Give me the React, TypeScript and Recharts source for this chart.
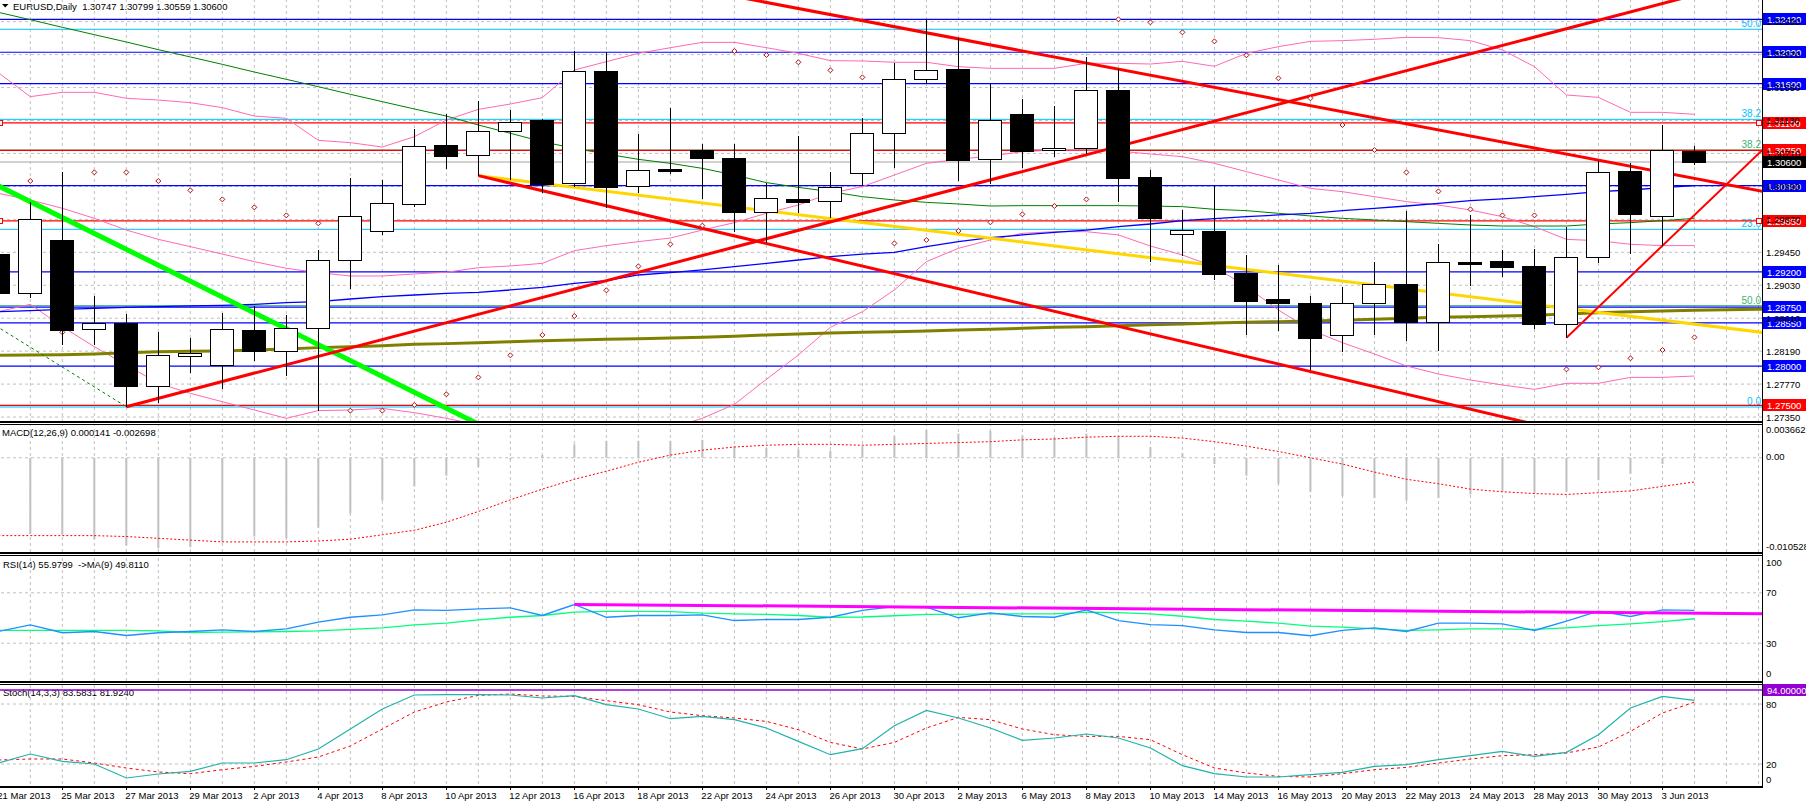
import React from 'react';
import { ComposedChart, Bar, Line, XAxis, YAxis, ReferenceLine } from 'recharts';

// time scale labels, one every second bar starting at bar 0
const dateLabels = [
  '21 Mar 2013', '25 Mar 2013', '27 Mar 2013', '29 Mar 2013', '2 Apr 2013', '4 Apr 2013', '8 Apr 2013',
  '10 Apr 2013', '12 Apr 2013', '16 Apr 2013', '18 Apr 2013', '22 Apr 2013', '24 Apr 2013', '26 Apr 2013',
  '30 Apr 2013', '2 May 2013', '6 May 2013', '8 May 2013', '10 May 2013', '14 May 2013', '16 May 2013',
  '20 May 2013', '22 May 2013', '24 May 2013', '28 May 2013', '30 May 2013', '3 Jun 2013',
];

// EURUSD daily candles
const opens = [
  1.29424, 1.28927, 1.29607, 1.28468, 1.28544, 1.2775, 1.28124, 1.28018, 1.28459, 1.28188,
  1.28481, 1.29348, 1.29717, 1.30061, 1.30818, 1.30686, 1.30992, 1.31136, 1.30338, 1.31761,
  1.30291, 1.30508, 1.3075, 1.30652, 1.2996, 1.30125, 1.301, 1.30465, 1.30966, 1.31655,
  1.31786, 1.30635, 1.31213, 1.3075, 1.30775, 1.31519, 1.3041, 1.29679, 1.29722, 1.2919,
  1.28855, 1.28804, 1.28392, 1.28799, 1.29042, 1.28557, 1.29326, 1.29335, 1.29275, 1.28532,
  1.29386, 1.30486, 1.29908, 1.30747,
];
const highs = [
  1.29522, 1.30095, 1.30478, 1.28893, 1.28663, 1.28434, 1.28357, 1.2868, 1.28765, 1.28646,
  1.29479, 1.30393, 1.30372, 1.31022, 1.31209, 1.31379, 1.31264, 1.31149, 1.32016, 1.31999,
  1.30958, 1.31289, 1.3083, 1.3083, 1.30329, 1.30932, 1.30478, 1.31166, 1.31867, 1.3242,
  1.32177, 1.31595, 1.31404, 1.31315, 1.31935, 1.31786, 1.30499, 1.29989, 1.30299, 1.29416,
  1.29288, 1.28893, 1.29012, 1.29326, 1.29976, 1.29551, 1.29925, 1.29479, 1.29488, 1.29777,
  1.30614, 1.30584, 1.31073, 1.30799,
];
const lows = [
  1.28842, 1.28872, 1.28268, 1.28268, 1.27482, 1.27533, 1.27916, 1.27703, 1.28069, 1.27873,
  1.27431, 1.28986, 1.29675, 1.30032, 1.30512, 1.30422, 1.30372, 1.30202, 1.30278, 1.3001,
  1.30202, 1.30444, 1.30134, 1.29713, 1.29564, 1.29947, 1.29883, 1.30299, 1.30529, 1.31595,
  1.30359, 1.30325, 1.30525, 1.30669, 1.30703, 1.30091, 1.29326, 1.29403, 1.29097, 1.284,
  1.28451, 1.2795, 1.28183, 1.284, 1.28323, 1.28196, 1.2902, 1.29139, 1.28472, 1.28362,
  1.29309, 1.29428, 1.29534, 1.30559,
];
const closes = [
  1.28927, 1.2987, 1.28459, 1.28544, 1.2775, 1.28137, 1.28162, 1.28468, 1.28188, 1.28481,
  1.29348, 1.29908, 1.30074, 1.30801, 1.30682, 1.30992, 1.31107, 1.30325, 1.31761, 1.30287,
  1.30495, 1.30491, 1.30656, 1.29968, 1.30138, 1.30095, 1.30278, 1.30966, 1.31655, 1.31769,
  1.30631, 1.31132, 1.30746, 1.30775, 1.31515, 1.30401, 1.29891, 1.2973, 1.29178, 1.28833,
  1.28799, 1.28362, 1.28799, 1.29042, 1.28566, 1.29322, 1.29305, 1.29267, 1.28532, 1.29386,
  1.30469, 1.29942, 1.3075, 1.306,
];

// Bollinger bands
const bbUpper = [
  1.3174, 1.31434, 1.31489, 1.31489, 1.31413, 1.31391, 1.31357, 1.31294, 1.31187, 1.31158,
  1.30877, 1.30848, 1.30792, 1.30924, 1.31136, 1.31272, 1.3134, 1.31421, 1.31774, 1.3188,
  1.31986, 1.32058, 1.32126, 1.32126, 1.32058, 1.31986, 1.31893, 1.31889, 1.31872, 1.31872,
  1.31816, 1.31795, 1.31795, 1.31795, 1.31859, 1.31859, 1.3185, 1.31884, 1.31821, 1.31986,
  1.32071, 1.32139, 1.32148, 1.32165, 1.3219, 1.32186, 1.32148, 1.32029, 1.31816, 1.31455,
  1.31425, 1.31234, 1.31234, 1.31209,
];
const bbMiddle = [
  1.30202, 1.30117, 1.30011, 1.29883, 1.29734, 1.29615, 1.29522, 1.29428, 1.29331, 1.29246,
  1.29191, 1.29148, 1.29148, 1.29174, 1.29195, 1.29254, 1.29276, 1.29309, 1.29471, 1.29535,
  1.29586, 1.29632, 1.29734, 1.29828, 1.29947, 1.30053, 1.30202, 1.30287, 1.30435, 1.30584,
  1.30635, 1.30678, 1.30733, 1.30754, 1.30754, 1.30741, 1.30703, 1.30669, 1.30584, 1.30478,
  1.30372, 1.30265, 1.30223, 1.30159, 1.30096, 1.30053, 1.29989, 1.29904, 1.29777, 1.29615,
  1.29598, 1.29552, 1.29535, 1.29535,
];
const bbLower = [
  1.28693, 1.28787, 1.28502, 1.28247, 1.28014, 1.2778, 1.27652, 1.27546, 1.2744, 1.27334,
  1.27432, 1.2744, 1.27461, 1.27406, 1.27334, 1.27249, 1.27211, 1.27198, 1.27177, 1.27189,
  1.27185, 1.27206, 1.27334, 1.27512, 1.27831, 1.28141, 1.28494, 1.28693, 1.2897, 1.29331,
  1.29501, 1.29607, 1.29692, 1.29713, 1.29713, 1.29671, 1.2953, 1.29416, 1.29267, 1.29012,
  1.28715, 1.2846, 1.28298, 1.28154, 1.28001, 1.27899, 1.27822, 1.27759, 1.27703, 1.2778,
  1.2778, 1.27856, 1.27856, 1.27873,
];

// moving averages
const maGreen = [
  1.32509, 1.32415, 1.32318, 1.32224, 1.32131, 1.32033, 1.3194, 1.31846, 1.31748, 1.31655,
  1.31561, 1.31464, 1.3137, 1.31277, 1.31187, 1.31073, 1.30967, 1.3086, 1.30775, 1.30703,
  1.30635, 1.30584, 1.3052, 1.30435, 1.30338, 1.30278, 1.30223, 1.30159, 1.30117, 1.30087,
  1.30066, 1.3004, 1.30045, 1.30045, 1.30045, 1.30045, 1.3004, 1.30032, 1.29998, 1.29981,
  1.29947, 1.29913, 1.29883, 1.29862, 1.29841, 1.29819, 1.29798, 1.29785, 1.29785, 1.29785,
  1.29811, 1.29828, 1.29853, 1.29883,
];
const maBlue = [
  1.28693, 1.28706, 1.28723, 1.28736, 1.28749, 1.28757, 1.28766, 1.28774, 1.28787, 1.28808,
  1.28821, 1.28855, 1.28885, 1.28906, 1.28927, 1.2894, 1.2897, 1.29004, 1.29055, 1.29089,
  1.29161, 1.29191, 1.29225, 1.29267, 1.29309, 1.29352, 1.29394, 1.29428, 1.2945, 1.29522,
  1.29586, 1.29637, 1.29671, 1.29705, 1.29734, 1.29777, 1.29811, 1.29853, 1.29879, 1.29904,
  1.29926, 1.29947, 1.29981, 1.30011, 1.3004, 1.30074, 1.30108, 1.3013, 1.30159, 1.30189,
  1.30223, 1.30244, 1.30274, 1.30299,
];
// shifted forward, so it runs three bars past the last candle
const maOlive = [
  1.28137, 1.28141, 1.28145, 1.28154, 1.28171, 1.28184, 1.28188, 1.28192, 1.28205, 1.28218,
  1.28235, 1.28247, 1.2826, 1.28277, 1.28286, 1.28298, 1.28311, 1.28324, 1.28332, 1.28341,
  1.28349, 1.28358, 1.28366, 1.28379, 1.28396, 1.28409, 1.28421, 1.2843, 1.28438, 1.28447,
  1.2846, 1.28468, 1.28481, 1.28494, 1.28502, 1.28515, 1.28528, 1.28536, 1.28549, 1.28557,
  1.28566, 1.28574, 1.28583, 1.28596, 1.28608, 1.28621, 1.2863, 1.28638, 1.28647, 1.28664,
  1.28681, 1.28693, 1.28702, 1.2871, 1.28719, 1.28723, 1.28727,
];

// parabolic SAR dots
const sar = [
  null, 1.30359, 1.2843, 1.30469, 1.30469, 1.30359, 1.3024, 1.30125, 1.30023, 1.29921,
  1.29819, 1.27432, 1.27432, 1.27504, 1.2764, 1.27856, 1.28137, 1.28396, 1.28638, 1.28965,
  1.29271, 1.29552, 1.2979, 1.32016, 1.31965, 1.31872, 1.3177, 1.3168, 1.29564, 1.29607,
  1.29722, 1.29832, 1.29934, 1.3004, 1.30125, 1.3242, 1.32381, 1.32254, 1.32139, 1.31961,
  1.31668, 1.31413, 1.31073, 1.30754, 1.30469, 1.30227, 1.29998, 1.29921, 1.29921, 1.27958,
  1.27984, 1.28099, 1.28205, 1.28366,
];

// MACD(12,26,9)
const macdMain = [
  -0.008, -0.0085, -0.0086, -0.0091, -0.0098, -0.0101, -0.01, -0.0094, -0.0088, -0.009,
  -0.0078, -0.0062, -0.0048, -0.0032, -0.002, -0.001, -0.0002, 0.0003, 0.0015, 0.0019,
  0.0019, 0.0019, 0.002, 0.0013, 0.0011, 0.0009, 0.0008, 0.0013, 0.0024, 0.0031,
  0.0027, 0.003, 0.0025, 0.0023, 0.0027, 0.0024, 0.0012, 0.0005, -0.0007, -0.002,
  -0.0029, -0.0038, -0.0043, -0.0045, -0.0048, -0.0045, -0.0041, -0.0038, -0.004, -0.0038,
  -0.0025, -0.0018, -0.0007, 0.000141,
];
const macdSignal = [
  -0.0087, -0.0087, -0.0087, -0.0087, -0.0088, -0.009, -0.0092, -0.0094, -0.0094, -0.0094,
  -0.0093, -0.0091, -0.0086, -0.0081, -0.0072, -0.006, -0.0047, -0.0035, -0.0024, -0.0015,
  -0.0005, 0.0003, 0.00085, 0.0012, 0.0014, 0.0015, 0.0015, 0.0014, 0.0015, 0.0016,
  0.0017, 0.0018, 0.002, 0.0021, 0.0023, 0.0024, 0.0024, 0.0022, 0.0018, 0.0013,
  0.0007, 0, -0.0007, -0.0016, -0.0024, -0.0029, -0.0035, -0.0038, -0.004, -0.0041,
  -0.0039, -0.0037, -0.0032, -0.0027,
];

// RSI(14) and its MA(9)
const rsi = [
  39.3, 44.6, 38.3, 39.3, 36.1, 38.3, 39.3, 40.6, 39.3, 41.4,
  46.7, 50.6, 52.5, 56.5, 56, 57.3, 58.1, 52, 60.7, 50.6,
  52, 52, 52.5, 48, 48.8, 48.8, 50.6, 56, 59.1, 58.6,
  50.2, 54.1, 51.2, 50.6, 56.5, 48, 44.8, 44, 40.6, 38.5,
  38.5, 35.9, 40.1, 42.2, 39.3, 45.9, 45.9, 45.4, 40.1, 47.5,
  55.4, 51.2, 56.5, 56,
];
const rsiMa = [
  40.1, 40.1, 40.1, 40.1, 40.1, 39.8, 38.5, 38.8, 39, 39.3,
  39.8, 41, 42.2, 44.5, 46, 48.5, 50.6, 52, 54.6, 55.2,
  55.2, 55, 53.8, 53.3, 52.8, 52, 50.6, 50.8, 51.8, 52.8,
  52.8, 53.3, 53.3, 53.3, 54.6, 54.2, 53.3, 51.4, 48.8, 47.5,
  45.9, 43.5, 42.7, 41.4, 40.1, 40.6, 41.4, 41.4, 40.9, 42.2,
  44, 45.4, 47.2, 49.4,
];

// Stochastic(14,3,3)
const stochK = [
  21, 30, 22.6, 20, 6, 10, 12.6, 21, 21, 24.3,
  35, 55, 75, 89, 89.3, 89.3, 89, 86, 88.3, 79.3,
  75, 65.3, 67.6, 64.3, 56, 42.6, 29.3, 35.3, 58.3, 73.6,
  66, 56, 43.6, 46, 50, 46, 36, 18.3, 10.3, 7,
  7, 9.3, 11.6, 17.6, 19.3, 24.3, 28.3, 32.6, 27.6, 31.6,
  49.3, 76, 87.6, 83.6,
];
const stochD = [
  24, 25, 25, 21, 16, 12, 10.3, 14.3, 17.6, 22,
  27, 38, 55, 72, 82, 88.6, 90, 88, 87.6, 83.3,
  79.3, 72, 68.3, 66, 62.6, 54.3, 41.6, 35, 41.6, 56,
  66.6, 64.3, 55, 49.3, 47.6, 47.6, 44.3, 29.3, 16, 11,
  7.6, 7, 10.3, 14.3, 16.6, 21, 25, 28.3, 29.3, 31,
  37, 52.6, 71, 81.9,
];

// horizontal objects on the price chart
const blueLevels = [1.3242, 1.32, 1.316, 1.303, 1.292, 1.2875, 1.2855, 1.28];
const redLevels = [1.311, 1.3075, 1.2985, 1.275];
const markedLevels = [1.311, 1.2985];
const bidPrice = 1.306;
const fiboBlue: [number, string][] = [[1.32293, '50.0'], [1.31145, '38.2'], [1.29743, '23.6'], [1.27478, '0.0']];
const fiboGreen: [number, string][] = [[1.30754, '38.2'], [1.2877, '50.0']];
const priceTicks = [1.2735, 1.2777, 1.2819, 1.2861, 1.2903, 1.2945, 1.2987, 1.3029, 1.3071, 1.3113, 1.3155, 1.3197, 1.3239];

// trend lines: [bar, value] anchor pairs
const riseRed: [number, number][] = [[4, 1.27482], [60, 1.33478]];
const fallRedTop: [number, number][] = [[20, 1.32944], [60, 1.29851]];
const fallRedLow: [number, number][] = [[15, 1.30427], [60, 1.26106]];
const goldLine: [number, number][] = [[15, 1.30427], [60, 1.28186]];
const steepRed: [number, number][] = [[49, 1.28362], [60, 1.32662]];
const limeLine: [number, number][] = [[-2, 1.30703], [20, 1.26248]];
const dashGreen: [number, number][] = [[-2, 1.28999], [4, 1.27482]];
const rsiTrend: [number, number][] = [[18, 60.8], [60, 52.4]];
const stochLevel = 94;

const macdTicks: [number, string][] = [[0.003662, '0.003662'], [0, '0.00'], [-0.010528, '-0.010528']];
const rsiTicks = [100, 70, 30, 0];
const stochTicks = [80, 20, 0];

const rows = maOlive.map((olive, i) => ({
  i,
  open: opens[i] ?? null,
  high: highs[i] ?? null,
  low: lows[i] ?? null,
  close: closes[i] ?? null,
  bbU: bbUpper[i] ?? null,
  bbM: bbMiddle[i] ?? null,
  bbL: bbLower[i] ?? null,
  maG: maGreen[i] ?? null,
  maB: maBlue[i] ?? null,
  maO: olive,
  sar: sar[i] ?? null,
  macd: macdMain[i] ?? null,
  sig: macdSignal[i] ?? null,
  rsi: rsi[i] ?? null,
  rsiMa: rsiMa[i] ?? null,
  k: stochK[i] ?? null,
  d: stochD[i] ?? null,
}));

const W = 1806;
const AXIS_W = 44;
const X_DOMAIN: [number, number] = [0.053, 55.11];
const PRICE_DOMAIN: [number, number] = [1.27287, 1.32666];
const MACD_DOMAIN: [number, number] = [-0.010528, 0.003662];
const FONT = '"Liberation Sans", Arial, sans-serif';
const FS = 9.5;
const GRID = '#c0c0c0';
const gridBars = Array.from({ length: 56 }, (_, i) => i);
const dateTicks = dateLabels.map((_, k) => k * 2);
const noMargin = { top: 0, right: 0, bottom: 0, left: 0 };
const seg = (pts: [number, number][]) => pts.map(([x, y]) => ({ x, y }));

const Candle = (props: any) => {
  const { x, y, width, height, payload } = props;
  if (!payload || payload.open == null || height == null || isNaN(height)) return null;
  const top0 = Math.min(y, y + height);
  const h = Math.abs(height);
  const { open, close, high, low } = payload;
  const toY = (p: number) => top0 + ((high - p) / (high - low)) * h;
  const cx = Math.floor(x + width / 2) + 0.5;
  const bt = Math.round(toY(Math.max(open, close))) + 0.5;
  const bb = Math.round(toY(Math.min(open, close))) + 0.5;
  return (
    <g>
      <line x1={cx} x2={cx} y1={Math.round(top0)} y2={Math.round(top0 + h)} stroke="#000" strokeWidth={1} />
      <rect x={cx - 12} y={bt} width={23} height={Math.max(bb - bt, 1)} fill={close > open ? '#fff' : '#000'} stroke="#000" strokeWidth={1} />
    </g>
  );
};

const SarDot = (props: any) => {
  const { cx, cy, payload, index } = props;
  if (!payload || payload.sar == null || cy == null || isNaN(cy)) return <g key={`s${index}`} />;
  return (
    <path key={`s${index}`} d={`M${cx} ${cy - 2.5} L${cx + 2.5} ${cy} L${cx} ${cy + 2.5} L${cx - 2.5} ${cy} Z`} fill="#fff" stroke="#b01010" strokeWidth={1} />
  );
};

const priceTag = (text: string, bg: string, marked = false) => (props: any) => {
  const vb = props.viewBox || {};
  const right = vb.x + vb.width;
  const yy = Math.round(vb.y);
  return (
    <g>
      {marked && <rect x={right - 5.5} y={yy - 2.5} width={5} height={5} fill="#fff" stroke="#ff0000" />}
      {marked && <rect x={vb.x - 2.5} y={yy - 2.5} width={5} height={5} fill="#fff" stroke="#ff0000" />}
      <rect x={right + 1} y={yy - 6} width={AXIS_W} height={12} fill={bg} />
      <text x={right + 5} y={yy + 3.5} fill="#fff" fontSize={FS} fontFamily={FONT}>{text}</text>
    </g>
  );
};

const fiboTag = (text: string, color: string) => (props: any) => {
  const vb = props.viewBox || {};
  const right = vb.x + vb.width;
  return (
    <text x={right - 1} y={vb.y - 2} textAnchor="end" fill={color} fontSize={FS + 0.5} fontFamily={FONT}>{text}</text>
  );
};

const axisText = (x: number, y: number, dy: number, text: string) => (
  <text x={x} y={y} dy={dy} fill="#000" fontSize={FS} fontFamily={FONT} textAnchor="start">{text}</text>
);

const PriceTick = (p: any) => axisText(p.x, p.y, 3.5, Number(p.payload.value).toFixed(5));
const MacdTick = (p: any) => {
  const v = Number(p.payload.value);
  const found = macdTicks.find((t) => t[0] === v);
  const dy = v > 0 ? 8 : v < 0 ? -2 : 2;
  return axisText(p.x, p.y, dy, found ? found[1] : String(v));
};
const RsiTick = (p: any) => {
  const v = Number(p.payload.value);
  const dy = v === 100 ? 11 : v === 0 ? -4 : 3.5;
  return axisText(p.x, p.y, dy, String(v));
};
const StochTick = (p: any) => {
  const v = Number(p.payload.value);
  return axisText(p.x, p.y, v === 0 ? -1 : 3.5, String(v));
};
const DateTick = (p: any) => {
  const v = Number(p.payload.value);
  const label = dateLabels[v / 2];
  const tx = Math.floor(p.x) + 0.5;
  return (
    <g>
      <line x1={tx} x2={tx} y1={p.y + 2} y2={p.y + 6} stroke="#000" />
      <text x={p.x - 1} y={p.y + 14.5} fill="#000" fontSize={FS} fontFamily={FONT} textAnchor="start">{label}</text>
    </g>
  );
};

const vGrid = (prefix: string) =>
  gridBars.map((b) => (
    <ReferenceLine key={`${prefix}${b}`} x={b} stroke={GRID} strokeDasharray="3 3" strokeWidth={1} zIndex={-100} />
  ));
const hGrid = (prefix: string, values: number[]) =>
  values.map((v) => (
    <ReferenceLine key={`${prefix}${v}`} y={v} stroke={GRID} strokeDasharray="3 3" strokeWidth={1} zIndex={-100} />
  ));

const hiddenX = <XAxis type="number" dataKey="i" domain={X_DOMAIN} allowDataOverflow hide />;

const App = () => {
  return (
    <div style={{ position: 'relative', width: W, height: 804, background: '#fff', overflow: 'hidden', fontFamily: FONT }}>
      <style>{'body{margin:0;}'}</style>

      <svg width={W} height={804} style={{ position: 'absolute', left: 0, top: 0 }}>
        <path d="M2 4 L8.5 4 L5.25 7.5 Z" fill="#000" />
        <text x={13} y={10} fontSize={FS} fontFamily={FONT} fill="#000" style={{ whiteSpace: 'pre' }}>EURUSD,Daily  1.30747 1.30799 1.30559 1.30600</text>
        <text x={2} y={435.5} fontSize={FS} fontFamily={FONT} fill="#000" style={{ whiteSpace: 'pre' }}>MACD(12,26,9) 0.000141 -0.002698</text>
        <text x={3} y={568} fontSize={FS} fontFamily={FONT} fill="#000" style={{ whiteSpace: 'pre' }}>RSI(14) 55.9799  -&gt;MA(9) 49.8110</text>
        <text x={3} y={695.5} fontSize={FS} fontFamily={FONT} fill="#000" style={{ whiteSpace: 'pre' }}>Stoch(14,3,3) 83.5831 81.9240</text>
      </svg>

      {/* price window */}
      <div style={{ position: 'absolute', left: 0, top: 0 }}>
        <ComposedChart width={W} height={422} data={rows} margin={noMargin}>
          {hiddenX}
          <YAxis orientation="right" width={AXIS_W} domain={PRICE_DOMAIN} allowDataOverflow ticks={priceTicks} interval={0}
            axisLine={false} tickLine={false} tickSize={0} tickMargin={4} tick={PriceTick} />
          {vGrid('gx')}
          {hGrid('gy', priceTicks)}
          {fiboBlue.map(([p, t]) => (
            <ReferenceLine key={`fb${t}`} y={p} stroke="#00bfff" strokeWidth={1} label={fiboTag(t, '#00bfff')} />
          ))}
          {fiboGreen.map(([p, t]) => (
            <ReferenceLine key={`fg${t}`} y={p} stroke="#3cb371" strokeWidth={1} label={fiboTag(t, '#3cb371')} />
          ))}
          <ReferenceLine y={bidPrice} stroke="#c0c0c0" strokeWidth={1.5} label={priceTag(bidPrice.toFixed(5), '#000')} />
          {blueLevels.map((p) => (
            <ReferenceLine key={`bl${p}`} y={p} stroke="#0000ff" strokeWidth={1.2} label={priceTag(p.toFixed(5), '#0000ff')} />
          ))}
          {redLevels.map((p) => (
            <ReferenceLine key={`rl${p}`} y={p} stroke="#ff0000" strokeWidth={1.2}
              label={priceTag(p.toFixed(5), '#ff0000', markedLevels.includes(p))} />
          ))}
          <Line dataKey="bbU" stroke="#ff69b4" strokeWidth={1} dot={false} activeDot={false} isAnimationActive={false} />
          <Line dataKey="bbM" stroke="#ff69b4" strokeWidth={1} dot={false} activeDot={false} isAnimationActive={false} />
          <Line dataKey="bbL" stroke="#ff69b4" strokeWidth={1} dot={false} activeDot={false} isAnimationActive={false} />
          <Line dataKey="maG" stroke="#008000" strokeWidth={1} dot={false} activeDot={false} isAnimationActive={false} />
          <Line dataKey="maB" stroke="#0000ff" strokeWidth={1.3} dot={false} activeDot={false} isAnimationActive={false} />
          <Line dataKey="maO" stroke="#808000" strokeWidth={3} dot={false} activeDot={false} isAnimationActive={false} />
          <ReferenceLine segment={seg(dashGreen)} stroke="#008000" strokeWidth={1} strokeDasharray="3 3" ifOverflow="hidden" />
          <ReferenceLine segment={seg(limeLine)} stroke="#00ff00" strokeWidth={5} ifOverflow="hidden" />
          <ReferenceLine segment={seg(goldLine)} stroke="#ffd700" strokeWidth={3} ifOverflow="hidden" />
          <ReferenceLine segment={seg(riseRed)} stroke="#ff0000" strokeWidth={3} ifOverflow="hidden" />
          <ReferenceLine segment={seg(fallRedTop)} stroke="#ff0000" strokeWidth={3} ifOverflow="hidden" />
          <ReferenceLine segment={seg(fallRedLow)} stroke="#ff0000" strokeWidth={3} ifOverflow="hidden" />
          <ReferenceLine segment={seg(steepRed)} stroke="#ff0000" strokeWidth={2} ifOverflow="hidden" />
          <Line dataKey="sar" stroke="none" dot={SarDot} activeDot={false} isAnimationActive={false} />
          <Bar dataKey={(d: any) => (d.open == null ? null : [d.low, d.high])} barSize={24} shape={Candle}
            isAnimationActive={false} zIndex={1500} />
        </ComposedChart>
      </div>

      {/* MACD window */}
      <div style={{ position: 'absolute', left: 0, top: 425 }}>
        <ComposedChart width={W} height={127} data={rows} margin={noMargin}>
          {hiddenX}
          <YAxis orientation="right" width={AXIS_W} domain={MACD_DOMAIN} allowDataOverflow ticks={macdTicks.map((t) => t[0])}
            interval={0} axisLine={false} tickLine={false} tickSize={0} tickMargin={4} tick={MacdTick} />
          {vGrid('mx')}
          {hGrid('my', [0])}
          <Bar dataKey="macd" barSize={2} fill="#c0c0c0" isAnimationActive={false} />
          <Line dataKey="sig" stroke="#ff0000" strokeWidth={1} strokeDasharray="2 2" dot={false} activeDot={false} isAnimationActive={false} />
        </ComposedChart>
      </div>

      {/* RSI window */}
      <div style={{ position: 'absolute', left: 0, top: 555 }}>
        <ComposedChart width={W} height={126} data={rows} margin={noMargin}>
          {hiddenX}
          <YAxis orientation="right" width={AXIS_W} domain={[0, 100]} allowDataOverflow ticks={rsiTicks} interval={0}
            axisLine={false} tickLine={false} tickSize={0} tickMargin={4} tick={RsiTick} />
          {vGrid('rx')}
          {hGrid('ry', [70, 30])}
          <Line dataKey="rsiMa" stroke="#00ff7f" strokeWidth={1.3} dot={false} activeDot={false} isAnimationActive={false} />
          <Line dataKey="rsi" stroke="#1e90ff" strokeWidth={1.3} dot={false} activeDot={false} isAnimationActive={false} />
          <ReferenceLine segment={seg(rsiTrend)} stroke="#ff00ff" strokeWidth={3} ifOverflow="hidden" />
        </ComposedChart>
      </div>

      {/* Stochastic window with time scale */}
      <div style={{ position: 'absolute', left: 0, top: 684 }}>
        <ComposedChart width={W} height={120} data={rows} margin={noMargin}>
          <XAxis type="number" dataKey="i" domain={X_DOMAIN} allowDataOverflow ticks={dateTicks} interval={0} height={20}
            axisLine={false} tickLine={false} tickSize={0} tickMargin={0} tick={DateTick} />
          <YAxis orientation="right" width={AXIS_W} domain={[0, 100]} allowDataOverflow ticks={stochTicks} interval={0}
            axisLine={false} tickLine={false} tickSize={0} tickMargin={4} tick={StochTick} />
          {vGrid('sx')}
          {hGrid('sy', [80, 20])}
          <ReferenceLine y={stochLevel} stroke="#9400d3" strokeWidth={1.5} label={priceTag(stochLevel.toFixed(5), '#9400d3')} />
          <Line dataKey="d" stroke="#ff0000" strokeWidth={1} strokeDasharray="3 3" dot={false} activeDot={false} isAnimationActive={false} />
          <Line dataKey="k" stroke="#20b2aa" strokeWidth={1.2} dot={false} activeDot={false} isAnimationActive={false} />
        </ComposedChart>
      </div>

      {/* window frames */}
      <div style={{ position: 'absolute', left: 0, top: 421, width: 1763, height: 2, background: '#000' }} />
      <div style={{ position: 'absolute', left: 0, top: 424, width: 1763, height: 1, background: '#000' }} />
      <div style={{ position: 'absolute', left: 0, top: 552, width: 1763, height: 2, background: '#000' }} />
      <div style={{ position: 'absolute', left: 0, top: 555, width: 1763, height: 1, background: '#000' }} />
      <div style={{ position: 'absolute', left: 0, top: 681, width: 1763, height: 2, background: '#000' }} />
      <div style={{ position: 'absolute', left: 0, top: 684, width: 1763, height: 1, background: '#000' }} />
      <div style={{ position: 'absolute', left: 0, top: 786, width: 1763, height: 2, background: '#000' }} />
      <div style={{ position: 'absolute', left: 1762, top: 0, width: 1, height: 788, background: '#000' }} />
    </div>
  );
};

export default App;
